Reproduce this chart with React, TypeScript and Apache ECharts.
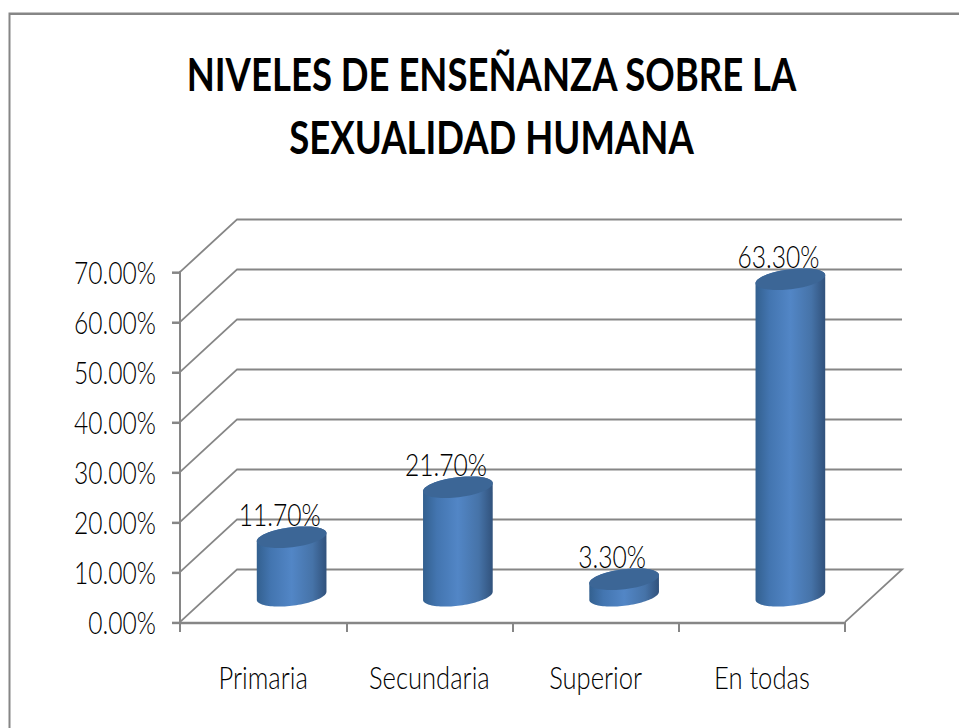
import React, { useEffect, useRef } from "react";
import * as echarts from "echarts";

const categories = ["Primaria", "Secundaria", "Superior", "En todas"];
const seriesValues = [11.7, 21.7, 3.3, 63.3];
const axisTicks = [0, 10, 20, 30, 40, 50, 60, 70];
const titleLines = ["NIVELES DE ENSEÑANZA SOBRE LA", "SEXUALIDAD HUMANA"];

const WIDTH = 959;
const PAGE_HEIGHT = 728;
const BASE_HEIGHT = 582;
const STRETCH = PAGE_HEIGHT / BASE_HEIGHT;
const FONT = "Lato";
const TEXT = "#000000";
const LABEL_SIZE = 24.6;
const LABEL_WEIGHT = 300;
const GREY = "#868686";
const DEPTH_X = 57;
const DEPTH_Y = 42;
const RX = 35;
const RY = 8;
const TILT = (-5.6 * Math.PI) / 180;

const fmt = (v: number) => `${v.toFixed(2)}%`;

function ellipsePoint(cx: number, cy: number, t: number): number[] {
  const a = RX * Math.cos(t);
  const b = RY * Math.sin(t);
  return [cx + a * Math.cos(TILT) - b * Math.sin(TILT), cy + a * Math.sin(TILT) + b * Math.cos(TILT)];
}

function ellipsePolygon(cx: number, cy: number): number[][] {
  const pts: number[][] = [];
  for (let i = 0; i < 72; i++) pts.push(ellipsePoint(cx, cy, (i / 72) * Math.PI * 2));
  return pts;
}

function bodyPolygon(cx: number, top: number, base: number): number[][] {
  const start = Math.atan2(-RY * Math.sin(TILT), RX * Math.cos(TILT));
  const pts: number[][] = [];
  for (let i = 0; i <= 48; i++) pts.push(ellipsePoint(cx, base, start + (i / 48) * Math.PI));
  for (let i = 0; i <= 48; i++) pts.push(ellipsePoint(cx, top, start + Math.PI + (i / 48) * Math.PI));
  return pts;
}

export default function App() {
  const ref = useRef<HTMLDivElement>(null);

  useEffect(() => {
    document.body.style.margin = "0";
    const chart = echarts.init(ref.current!, undefined, { renderer: "svg" });
    const bodyFill = new echarts.graphic.LinearGradient(0, 0, 1, 0, [
      { offset: 0, color: "#33608f" },
      { offset: 0.2, color: "#4375b0" },
      { offset: 0.5, color: "#5286c6" },
      { offset: 0.8, color: "#4673a8" },
      { offset: 1, color: "#31527c" },
    ]);

    chart.setOption({
      animation: false,
      backgroundColor: "#ffffff",
      title: {
        text: titleLines.join("\n"),
        left: 486.5,
        top: 28,
        textAlign: "center",
        textStyle: { fontFamily: FONT, fontSize: 36.5, fontWeight: "bold", color: "#000000", lineHeight: 50.5 },
      },
      graphic: [
        {
          type: "polyline",
          silent: true,
          shape: { points: [[9.5, BASE_HEIGHT + 2], [9.5, 11], [WIDTH + 2, 11]] },
          style: { stroke: GREY, lineWidth: 2, fill: "none" },
        },
      ],
      grid: { left: 180, width: 665, top: 272 / STRETCH, height: 350 / STRETCH },
      xAxis: {
        type: "category",
        data: categories,
        boundaryGap: true,
        axisLine: { show: true, lineStyle: { color: GREY, width: 2 } },
        axisTick: { show: true, length: 8, alignWithLabel: false, lineStyle: { color: GREY, width: 2 } },
        axisLabel: { interval: 0, margin: 30, color: TEXT, fontFamily: FONT, fontSize: 25.6, fontWeight: LABEL_WEIGHT },
        splitLine: { show: false },
      },
      yAxis: {
        type: "value",
        min: 0,
        max: 70,
        interval: 10,
        axisLine: { show: true, lineStyle: { color: GREY, width: 2 } },
        axisTick: { show: true, length: 8, lineStyle: { color: GREY, width: 2 } },
        axisLabel: {
          margin: 24,
          padding: [4, 0, 0, 0],
          color: TEXT,
          fontFamily: FONT,
          fontSize: LABEL_SIZE,
          fontWeight: LABEL_WEIGHT,
          formatter: (v: number) => fmt(v),
        },
        splitLine: { show: false },
      },
      series: [
        {
          type: "custom",
          coordinateSystem: "cartesian2d",
          silent: true,
          clip: false,
          z: 1,
          data: axisTicks.map((v) => [0, v]),
          renderItem: (params: any, api: any) => {
            const v = api.value(1);
            const y = api.coord([0, v])[1];
            const { x, width } = params.coordSys;
            const points = [
              [x, y],
              [x + DEPTH_X, y - DEPTH_Y],
              [x + width + DEPTH_X, y - DEPTH_Y],
            ];
            if (v === 0) points.push([x + width, y]);
            return { type: "polyline", shape: { points }, style: { stroke: GREY, lineWidth: 1.6, fill: "none" } };
          },
        },
        {
          type: "custom",
          coordinateSystem: "cartesian2d",
          silent: true,
          clip: false,
          z: 3,
          data: seriesValues.map((v, i) => [i, v]),
          renderItem: (_params: any, api: any) => {
            const i = api.value(0);
            const v = api.value(1);
            const [fx, fy] = api.coord([i, v]);
            const base = api.coord([i, 0])[1] - DEPTH_Y / 2;
            const cx = fx + DEPTH_X / 2;
            const top = fy - DEPTH_Y / 2;
            return {
              type: "group",
              children: [
                {
                  type: "polygon",
                  shape: { points: bodyPolygon(cx, top, base) },
                  style: { fill: bodyFill },
                },
                {
                  type: "polygon",
                  shape: { points: ellipsePolygon(cx, top) },
                  style: { fill: "#3c6696" },
                },
                {
                  type: "text",
                  style: {
                    text: fmt(v),
                    x: cx - 12,
                    y: top - 18.5,
                    align: "center",
                    verticalAlign: "middle",
                    fill: TEXT,
                    font: `${LABEL_WEIGHT} ${LABEL_SIZE}px ${FONT}`,
                  },
                },
              ],
            };
          },
        },
      ],
    });
    return () => chart.dispose();
  }, []);

  return (
    <div
      style={{
        position: "absolute",
        left: 0,
        top: 0,
        width: WIDTH,
        height: PAGE_HEIGHT,
        overflow: "hidden",
        background: "#ffffff",
      }}
    >
      <div
        ref={ref}
        style={{
          width: WIDTH,
          height: BASE_HEIGHT,
          transform: `scaleY(${STRETCH})`,
          transformOrigin: "0 0",
        }}
      />
    </div>
  );
}
